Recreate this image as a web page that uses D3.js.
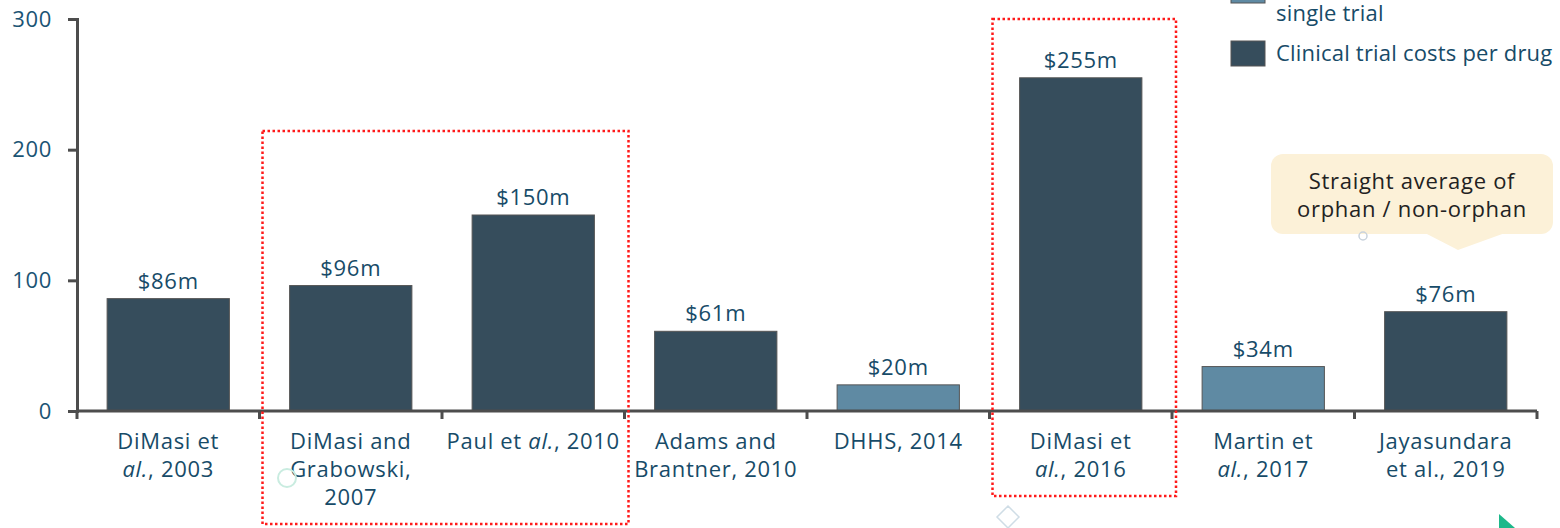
<!DOCTYPE html>
<html>
<head>
<meta charset="utf-8">
<script src="https://cdn.jsdelivr.net/npm/d3@7"></script>
<style>
  body { margin: 0; background: #fff; }
  svg { display: block; font-family: "Open Sans", "Lato", sans-serif; }
</style>
</head>
<body>
<div id="chart"></div>
<script>
// chart data
const categories = [
  ["DiMasi et", "*al.*, 2003"],
  ["DiMasi and", "Grabowski,", "2007"],
  ["Paul et *al.*, 2010"],
  ["Adams and", "Brantner, 2010"],
  ["DHHS, 2014"],
  ["DiMasi et", "*al.*, 2016"],
  ["Martin et", "*al.*, 2017"],
  ["Jayasundara", "et al., 2019"]
];
const values = [86, 96, 150, 61, 20, 255, 34, 76];
const seriesOf = [1, 1, 1, 1, 0, 1, 0, 1]; // 0 = per single trial, 1 = per drug
const seriesNames = [["Clinical trial costs per", "single trial"], ["Clinical trial costs per drug"]];
const yTicks = [0, 100, 200, 300];
const highlightGroups = [[1, 2], [5]];
const calloutLines = ["Straight average of", "orphan / non-orphan"];

const W = 1560, H = 528;
const margin = {top: 19, right: 23, bottom: 117, left: 77};
const colors = ["#5f8aa3", "#364d5c"];
const textColor = "#174b68";
const fs = 22;
const ls = 0.7;

const svg = d3.select("#chart").append("svg")
  .attr("width", W).attr("height", H);

const x = d3.scaleBand()
  .domain(d3.range(categories.length))
  .range([margin.left, W - margin.right])
  .paddingInner(0.33).paddingOuter(0.165);
const xBand = d3.scaleBand()
  .domain(d3.range(categories.length))
  .range([margin.left, W - margin.right]);
const y = d3.scaleLinear().domain([0, 300]).range([H - margin.bottom, margin.top]);

// bars
svg.append("g").selectAll("rect")
  .data(values)
  .join("rect")
  .attr("x", (d, i) => x(i))
  .attr("y", d => y(d))
  .attr("width", x.bandwidth())
  .attr("height", d => y(0) - y(d))
  .attr("fill", (d, i) => colors[seriesOf[i]])
  .attr("stroke", "#555")
  .attr("stroke-width", 1);

// value labels
svg.append("g").selectAll("text")
  .data(values)
  .join("text")
  .attr("x", (d, i) => x(i) + x.bandwidth() / 2)
  .attr("y", d => y(d) - 10)
  .attr("text-anchor", "middle")
  .attr("font-size", fs)
  .attr("letter-spacing", ls)
  .attr("fill", textColor)
  .text(d => "$" + d + "m");

// y axis
const yAxis = svg.append("g")
  .attr("transform", "translate(" + margin.left + ",0)")
  .call(d3.axisLeft(y).tickValues(yTicks).tickSize(9).tickPadding(16));
yAxis.select(".domain").attr("stroke", "#4d4d4d").attr("stroke-width", 3);
yAxis.selectAll(".tick line").attr("stroke", "#4d4d4d").attr("stroke-width", 3);
yAxis.selectAll(".tick text").attr("font-size", fs).attr("fill", "#1b5474")
  .attr("letter-spacing", ls)
  .attr("font-family", "'Open Sans', sans-serif");

// x axis line + boundary ticks
const xg = svg.append("g");
xg.append("line")
  .attr("x1", margin.left).attr("x2", W - margin.right)
  .attr("y1", y(0)).attr("y2", y(0))
  .attr("stroke", "#4d4d4d").attr("stroke-width", 3);
xg.selectAll("line.tk")
  .data(d3.range(categories.length + 1))
  .join("line").attr("class", "tk")
  .attr("x1", i => i < categories.length ? xBand(i) : xBand.range()[1])
  .attr("x2", i => i < categories.length ? xBand(i) : xBand.range()[1])
  .attr("y1", y(0)).attr("y2", y(0) + 8)
  .attr("stroke", "#4d4d4d").attr("stroke-width", 3);

// category labels (with italic parts)
const lab = svg.append("g").selectAll("text")
  .data(categories)
  .join("text")
  .attr("text-anchor", "middle")
  .attr("font-size", fs)
  .attr("letter-spacing", ls)
  .attr("fill", textColor);
lab.each(function (lines, i) {
  const t = d3.select(this);
  const cx = xBand(i) + xBand.bandwidth() / 2;
  lines.forEach((line, li) => {
    const parts = line.split("*");
    parts.forEach((p, pi) => {
      if (!p) return;
      const ts = t.append("tspan").text(p)
        .attr("font-style", pi % 2 ? "italic" : "normal");
      if (pi === 0 || (pi === 1 && parts[0] === "")) {
        ts.attr("x", cx).attr("y", 449 + li * 28);
      }
    });
  });
});

// red dotted highlight boxes
const boxes = [
  {g: highlightGroups[0], top: 131, bottom: 524},
  {g: highlightGroups[1], top: 19, bottom: 496}
];
svg.append("g").selectAll("rect")
  .data(boxes)
  .join("rect")
  .attr("x", d => xBand(d3.min(d.g)) + 3)
  .attr("y", d => d.top)
  .attr("width", d => xBand(d3.max(d.g)) + xBand.bandwidth() + 4 - xBand(d3.min(d.g)) - 3)
  .attr("height", d => d.bottom - d.top)
  .attr("fill", "none")
  .attr("stroke", "#ff1a1a")
  .attr("stroke-width", 2.5)
  .attr("stroke-dasharray", "2.5,2.5");

// legend (first entry runs off the top edge, as in the source)
const legend = svg.append("g").attr("transform", "translate(1231,0)");
const swY = [-22, 41];
const txtY = [-8, 61];
seriesNames.forEach((name, i) => {
  legend.append("rect")
    .attr("x", 0).attr("y", swY[i])
    .attr("width", 34).attr("height", 25)
    .attr("fill", colors[i]).attr("stroke", "#555");
  const t = legend.append("text")
    .attr("font-size", fs).attr("letter-spacing", 0.2).attr("fill", textColor);
  name.forEach((ln, li) => {
    t.append("tspan").attr("x", 45).attr("y", txtY[i] + li * 29).text(ln);
  });
});

// callout
const co = svg.append("g");
co.append("rect")
  .attr("x", 1271).attr("y", 154).attr("width", 282).attr("height", 80)
  .attr("rx", 12).attr("fill", "#fcf1d8");
co.append("path")
  .attr("d", "M1425,233 L1458,250 L1505,233 Z")
  .attr("fill", "#fcf1d8");
co.append("text")
  .attr("text-anchor", "middle").attr("font-size", fs).attr("letter-spacing", ls)
  .attr("fill", "#222")
  .selectAll("tspan").data(calloutLines).join("tspan")
  .attr("x", 1412).attr("y", (d, i) => 189 + i * 28)
  .text(d => d);

// faint decorations
svg.append("circle").attr("cx", 287).attr("cy", 478).attr("r", 9)
  .attr("fill", "none").attr("stroke", "#c9ece0").attr("stroke-width", 2);
svg.append("circle").attr("cx", 1363).attr("cy", 236).attr("r", 4)
  .attr("fill", "none").attr("stroke", "#c8d2dc").attr("stroke-width", 1.5);
svg.append("path").attr("d", "M1008,506 L1019,517 L1008,528 L997,517 Z")
  .attr("fill", "none").attr("stroke", "#cfdde6").attr("stroke-width", 1.5);
svg.append("path").attr("d", "M1499,514 L1515,528 L1499,528 Z")
  .attr("fill", "#1db88a");
</script>
</body>
</html>
